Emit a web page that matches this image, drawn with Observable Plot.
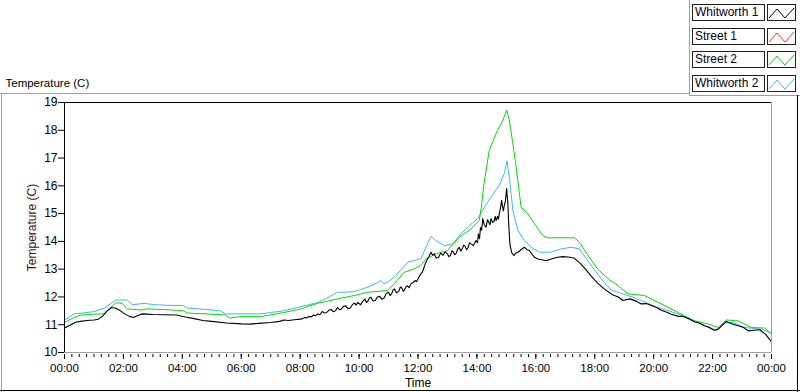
<!DOCTYPE html>
<html><head><meta charset="utf-8">
<script src="https://cdn.jsdelivr.net/npm/d3@7"></script>
<script src="https://cdn.jsdelivr.net/npm/@observablehq/plot@0.6"></script>
<style>
body{margin:0;background:#fff;font-family:"Liberation Sans",Arial,sans-serif;}
#wrap{position:relative;width:800px;height:392px;overflow:hidden;background:#fff}
#chart{position:absolute;left:0;top:0}
.ln{position:absolute}
.lg-text{position:absolute;left:692px;width:69px;height:15px;border:1px solid #222;background:#fff;font-size:12px;line-height:15px;padding-left:2px;box-sizing:content-box;color:#000018;white-space:nowrap}
.lg-sw{position:absolute;left:767px;width:27px;height:15px;border:1px solid #222;background:#fff}
</style></head><body>
<div id="wrap">
  <div id="chart"></div>
  <div class="ln" style="left:1px;top:93px;width:1px;height:299px;background:#a0a0a0"></div>
  <div class="ln" style="left:0;top:93px;width:689px;height:1px;background:#a0a0a0"></div>
  <div class="ln" style="left:689px;top:0;width:1px;height:96px;background:#a0a0a0"></div>
  <div class="ln" style="left:689px;top:95px;width:111px;height:1px;background:#a0a0a0"></div>
  <div class="ln" style="left:797px;top:95px;width:1px;height:297px;background:#000"></div>
  <div class="ln" style="left:0;top:390px;width:800px;height:1px;background:#000"></div>
  <div id="legend"></div>
</div>
<script>
// ---- series names / colours ----
const seriesNames = ["Whitworth 1", "Street 1", "Street 2", "Whitworth 2"];
const seriesColors = ["#000000", "#ff3030", "#00e000", "#3fb6f5"];

// ---- axis ticks ----
const yTicks = [10, 11, 12, 13, 14, 15, 16, 17, 18, 19];
const xTickValues = [0, 2, 4, 6, 8, 10, 12, 14, 16, 18, 20, 22, 24];
const xTickLabels = ["00:00","02:00","04:00","06:00","08:00","10:00","12:00","14:00","16:00","18:00","20:00","22:00","00:00"];

// ---- Whitworth 1 (black) : time in hours, temperature in C ----
const w1Time = [0.00,0.25,0.40,0.55,0.75,1.00,1.15,1.30,1.45,1.60,1.72,1.90,2.05,2.20,2.35,2.50,2.65,2.80,3.00,3.40,3.80,4.10,4.40,4.70,5.00,5.50,6.00,6.30,6.60,7.00,7.30,7.45,7.60,7.80,
  8.00,8.08,8.15,8.22,8.30,8.38,8.45,8.52,8.60,8.67,8.75,8.82,8.90,8.97,9.05,9.12,9.20,9.27,9.33,9.40,9.47,9.55,9.62,9.70,9.77,9.85,9.90,9.95,
  10.05,10.12,10.20,10.25,10.30,10.35,10.40,10.47,10.55,10.62,10.70,10.77,10.85,10.92,11.00,11.05,11.10,11.15,11.20,11.27,11.35,11.40,11.45,11.50,11.53,11.60,11.65,11.70,11.76,11.83,11.90,11.95,
  12.00,12.05,12.10,12.15,12.20,12.25,12.30,12.37,12.44,12.50,12.55,12.62,12.70,12.77,12.85,12.92,13.00,13.05,13.10,13.15,13.20,13.25,13.30,13.35,13.40,13.45,13.50,13.55,13.60,13.65,13.70,13.75,13.80,13.88,13.97,
  14.02,14.05,14.09,14.12,14.16,14.20,14.25,14.31,14.36,14.40,14.44,14.48,14.53,14.58,14.62,14.65,14.70,14.73,14.76,14.80,14.84,14.87,14.90,14.93,14.96,14.99,15.01,15.03,15.05,15.08,15.12,15.18,
  15.25,15.32,15.39,15.50,15.61,15.70,15.78,15.88,15.95,16.10,16.20,16.35,16.50,16.70,16.90,17.10,17.30,17.50,17.70,17.88,18.10,18.33,18.60,18.80,18.96,19.20,19.40,19.58,19.75,19.92,20.10,20.26,20.45,20.60,20.85,21.00,21.17,21.40,21.55,21.73,21.90,22.07,22.20,22.30,22.47,22.60,22.75,22.87,23.05,23.21,23.40,23.60,23.80,24.00];
const w1Temp = [10.88,11.02,11.10,11.12,11.15,11.17,11.20,11.32,11.50,11.62,11.60,11.50,11.39,11.30,11.26,11.34,11.39,11.38,11.37,11.36,11.35,11.28,11.22,11.15,11.12,11.06,11.03,11.02,11.05,11.08,11.12,11.17,11.15,11.18,
  11.20,11.22,11.26,11.24,11.30,11.28,11.35,11.32,11.39,11.36,11.48,11.42,11.44,11.52,11.55,11.47,11.50,11.62,11.54,11.57,11.66,11.68,11.58,11.60,11.72,11.78,11.70,11.80,
  11.72,11.84,11.92,11.80,11.85,11.96,11.99,11.86,11.87,12.00,12.02,11.92,11.96,12.12,12.17,12.05,12.10,12.24,12.29,12.15,12.20,12.36,12.32,12.20,12.23,12.38,12.40,12.33,12.47,12.52,12.59,12.55,
  12.65,12.75,12.83,12.90,13.05,13.20,13.31,13.45,13.61,13.50,13.55,13.40,13.43,13.58,13.50,13.62,13.55,13.45,13.49,13.66,13.62,13.52,13.58,13.72,13.79,13.65,13.73,13.86,13.82,13.70,13.78,13.95,13.91,13.85,14.03,
  13.95,14.27,14.10,14.50,14.40,14.82,14.60,14.51,14.78,14.70,14.60,14.82,14.68,14.72,14.90,14.75,14.90,14.80,15.00,15.20,15.48,15.25,15.10,15.30,15.40,15.70,15.90,15.60,15.40,14.60,13.90,13.60,
  13.49,13.58,13.61,13.70,13.79,13.70,13.67,13.52,13.43,13.36,13.34,13.30,13.36,13.42,13.45,13.44,13.40,13.22,12.98,12.75,12.50,12.28,12.08,12.00,11.87,11.93,11.85,11.75,11.76,11.69,11.62,11.52,11.45,11.38,11.30,11.30,11.22,11.10,11.06,10.96,10.90,10.80,10.85,10.95,11.12,11.05,11.00,10.96,10.90,10.78,10.80,10.82,10.65,10.38];

// ---- Street 1 (red) : no samples drawn in the reference ----
const s1Time = [];
const s1Temp = [];

// ---- Street 2 (green) ----
const s2Time = [0.00,0.32,0.55,1.00,1.34,1.52,1.73,1.95,2.13,2.60,2.80,3.50,4.05,4.17,5.00,5.47,5.60,5.95,6.66,7.45,8.02,8.59,9.27,9.83,10.29,10.97,11.19,11.53,11.87,12.10,12.27,12.61,13.00,13.40,13.80,14.08,14.15,14.24,14.42,14.65,14.88,15.01,15.10,15.22,15.33,15.50,15.73,15.95,16.24,16.40,17.31,17.48,17.80,18.10,18.50,18.79,19.13,19.69,20.26,20.83,21.39,21.85,22.19,22.47,22.87,23.32,23.77,24.00];
const s2Temp = [11.08,11.26,11.35,11.38,11.39,11.57,11.78,11.78,11.57,11.53,11.57,11.54,11.50,11.42,11.38,11.35,11.24,11.29,11.29,11.44,11.57,11.77,11.93,12.05,12.17,12.23,12.47,12.89,13.01,13.13,13.37,13.55,13.67,14.15,14.45,14.75,15.23,16.08,17.28,17.88,18.36,18.72,18.36,17.52,16.68,15.23,15.00,14.64,14.21,14.13,14.13,13.97,13.45,13.00,12.62,12.41,12.11,12.05,11.75,11.44,11.14,11.03,10.90,11.17,11.14,10.90,10.88,10.66];

// ---- Whitworth 2 (blue) ----
const w2Time = [0.00,0.32,0.60,1.00,1.34,1.56,1.73,2.13,2.30,2.70,3.04,3.50,4.05,4.17,4.80,5.30,5.47,6.00,6.66,7.00,7.45,8.02,8.30,8.59,8.90,9.27,9.50,9.83,10.29,10.60,10.74,10.85,11.00,11.19,11.40,11.65,11.87,12.10,12.27,12.44,12.60,12.90,13.18,13.46,13.74,14.03,14.25,14.48,14.76,14.93,15.02,15.10,15.22,15.39,15.61,15.84,16.12,16.50,16.86,17.20,17.48,17.80,18.22,18.56,19.13,19.58,20.15,20.83,21.39,21.96,22.13,22.41,22.70,23.09,23.66,24.00];
const w2Temp = [11.17,11.39,11.42,11.47,11.59,11.75,11.89,11.89,11.72,11.77,11.72,11.70,11.69,11.60,11.55,11.50,11.39,11.39,11.39,11.44,11.50,11.65,11.72,11.80,11.95,12.17,12.17,12.19,12.35,12.50,12.59,12.47,12.55,12.71,12.95,13.25,13.31,13.37,13.79,14.18,14.03,13.85,13.91,14.27,14.57,14.82,15.23,15.60,16.02,16.44,16.90,16.32,15.12,14.39,14.03,13.79,13.61,13.61,13.73,13.79,13.73,13.25,12.65,12.25,12.05,11.87,11.62,11.39,11.14,10.84,10.78,11.08,11.08,10.90,10.84,10.69];

const toRows = (ts, vs, s) => ts.map((t, i) => ({t, v: vs[i], s}));
const rowsW1 = toRows(w1Time, w1Temp, seriesNames[0]);
const rowsS1 = toRows(s1Time, s1Temp, seriesNames[1]);
const rowsS2 = toRows(s2Time, s2Temp, seriesNames[2]);
const rowsW2 = toRows(w2Time, w2Temp, seriesNames[3]);

const minorTicks = d3.range(0, 24.001, 0.25);
const font = "Liberation Sans, Arial, sans-serif";

const chart = Plot.plot({
  width: 800, height: 392,
  marginLeft: 64, marginRight: 29, marginTop: 102, marginBottom: 40,
  x: {domain: [0, 24]},
  y: {domain: [10, 19]},
  style: {fontFamily: font, background: "transparent", color: "#000", overflow: "visible"},
  marks: [
    Plot.line(rowsW2, {x: "t", y: "v", stroke: seriesColors[3], strokeWidth: 1}),
    Plot.line(rowsS1, {x: "t", y: "v", stroke: seriesColors[1], strokeWidth: 1}),
    Plot.line(rowsS2, {x: "t", y: "v", stroke: seriesColors[2], strokeWidth: 1}),
    Plot.line(rowsW1, {x: "t", y: "v", stroke: seriesColors[0], strokeWidth: 1.1}),
    Plot.ruleX([24], {stroke: "#a0a0a0"}),
    Plot.ruleY([10], {stroke: "#a0a0a0"}),
    Plot.ruleX([0], {stroke: "#000"}),
    Plot.ruleY([19], {stroke: "#000"}),
    Plot.axisY({ticks: yTicks, tickSize: 6, tickPadding: 1, fontSize: 12, label: null, tickFormat: d => String(d), stroke: "#000", fill: "#000"}),
    Plot.axisX({ticks: minorTicks, tickSize: 3, tickFormat: () => "", label: null, dy: 2, stroke: "#000"}),
    Plot.axisX({ticks: xTickValues, tickSize: 5, tickPadding: 4, dy: 2, fontSize: 11.5, label: null,
      tickFormat: d => xTickLabels[xTickValues.indexOf(d)], stroke: "#000", fill: "#000"}),
    Plot.text(["Temperature (C)"], {frameAnchor: "left", rotate: -90, dx: -32, textAnchor: "middle", lineAnchor: "middle", fontSize: 12, fill: "#3a1414"}),
    Plot.text(["Time"], {frameAnchor: "bottom", dy: 31, textAnchor: "middle", lineAnchor: "middle", fontSize: 12, fill: "#000"}),
    Plot.text(["Temperature (C)"], {frameAnchor: "top-left", dx: -59, dy: -19, textAnchor: "start", lineAnchor: "middle", fontSize: 11.5, fill: "#000"})
  ]
});
document.getElementById("chart").appendChild(chart);

// ---- legend ----
const lg = document.getElementById("legend");
seriesNames.forEach((name, i) => {
  const top = 4 + i * 23.7;
  const t = document.createElement("div");
  t.className = "lg-text";
  t.style.top = top + "px";
  t.textContent = name;
  lg.appendChild(t);
  const sw = document.createElement("div");
  sw.className = "lg-sw";
  sw.style.top = top + "px";
  sw.innerHTML = `<svg width="27" height="15"><polyline points="1,13 9,4 17,13 26,3" fill="none" stroke="${seriesColors[i]}" stroke-width="1"/></svg>`;
  lg.appendChild(sw);
});
</script>
</body></html>
